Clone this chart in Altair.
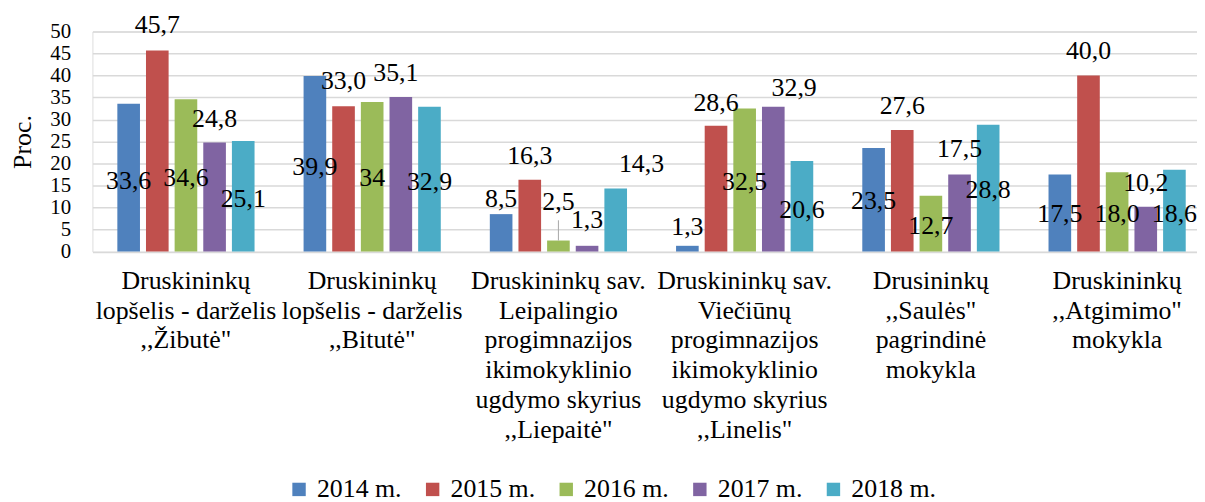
import altair as alt
import pandas as pd

categories = [
    "Druskininkų|lopšelis - darželis|,,Žibutė\"",
    "Druskininkų|lopšelis - darželis|,,Bitutė\"",
    "Druskininkų sav.|Leipalingio|progimnazijos|ikimokyklinio|ugdymo skyrius|,,Liepaitė\"",
    "Druskininkų sav.|Viečiūnų|progimnazijos|ikimokyklinio|ugdymo skyrius|,,Linelis\"",
    "Drusininkų|,,Saulės\"|pagrindinė|mokykla",
    "Druskininkų|,,Atgimimo\"|mokykla",
]
years = ["2014 m.", "2015 m.", "2016 m.", "2017 m.", "2018 m."]
colors = ["#4f81bd", "#c0504d", "#9bbb59", "#8064a2", "#4bacc6"]

values_2014 = [33.6, 39.9, 8.5, 1.3, 23.5, 17.5]
values_2015 = [45.7, 33.0, 16.3, 28.6, 27.6, 40.0]
values_2016 = [34.6, 34.0, 2.5, 32.5, 12.7, 18.0]
values_2017 = [24.8, 35.1, 1.3, 32.9, 17.5, 10.2]
values_2018 = [25.1, 32.9, 14.3, 20.6, 28.8, 18.6]

labels_2014 = ["33,6", "39,9", "8,5", "1,3", "23,5", "17,5"]
labels_2015 = ["45,7", "33,0", "16,3", "28,6", "27,6", "40,0"]
labels_2016 = ["34,6", "34", "2,5", "32,5", "12,7", "18,0"]
labels_2017 = ["24,8", "35,1", "1,3", "32,9", "17,5", "10,2"]
labels_2018 = ["25,1", "32,9", "14,3", "20,6", "28,8", "18,6"]

# label anchor (in data units)
label_y_2014 = [16.1, 19.3, 11.9, 5.5, 11.4, 8.5]
label_y_2015 = [51.4, 38.7, 21.8, 33.7, 33.1, 45.5]
label_y_2016 = [16.6, 16.6, 11.2, 15.7, 5.8, 8.5]
label_y_2017 = [30.1, 40.5, 7.1, 37.1, 23.4, 15.5]
label_y_2018 = [11.9, 15.9, 19.8, 9.4, 13.9, 8.5]

# horizontal nudges of a few labels (px)
label_dx_2017 = [0, -5, 0, 21, 0, 0]
label_dx_2018 = [0, 0, 26, 0, 0, 0]

# leader line for the "2,5" label
leader_cat = categories[2]
leader_year = "2016 m."
leader_from = 2.5
leader_to = 7.1

vals = [values_2014, values_2015, values_2016, values_2017, values_2018]
labs = [labels_2014, labels_2015, labels_2016, labels_2017, labels_2018]
lys = [label_y_2014, label_y_2015, label_y_2016, label_y_2017, label_y_2018]
dxs = [[0] * 6, [0] * 6, [0] * 6, label_dx_2017, label_dx_2018]

rows = []
for yi, yr in enumerate(years):
    for ci, cat in enumerate(categories):
        rows.append({
            "cat": cat, "year": yr, "value": vals[yi][ci],
            "label": labs[yi][ci], "label_y": lys[yi][ci], "dx": dxs[yi][ci],
        })
df = pd.DataFrame(rows)
leader_df = pd.DataFrame([{"cat": leader_cat, "year": leader_year,
                           "value": leader_from, "value2": leader_to}])

FONT = "Liberation Serif"
FS = 26

x_enc = alt.X(
    "cat:N", sort=categories,
    scale=alt.Scale(paddingInner=0.231, paddingOuter=0.081, align=0.726, round=False),
    axis=alt.Axis(
        title=None, labelExpr="split(datum.label, '|')",
        labelFontSize=FS, labelLineHeight=30, labelPadding=16, labelOverlap=False,
        labelLimit=0, labelAngle=0, labelBaseline="top",
        domain=False, ticks=False, grid=False,
    ),
)
xo_enc = alt.XOffset("year:N", sort=years,
                     scale=alt.Scale(paddingInner=0.21, paddingOuter=0.105))
y_axis = alt.Axis(
    title="Proc.", values=list(range(0, 51, 5)), labelFontSize=21, labelOverlap=False,
    labelPadding=22, ticks=False, domain=False,
    grid=True, gridColor="#d9d9d9", gridWidth=1.5,
    titleFontSize=FS, titleFontWeight="normal",
    titleAngle=270, titleX=-70, titleY=110.75, titleAlign="center", titleBaseline="middle",
)
y_scale = alt.Scale(domain=[0, 50], nice=False)

bars = alt.Chart(df).mark_bar().encode(
    x=x_enc, xOffset=xo_enc,
    y=alt.Y("value:Q", scale=y_scale, axis=y_axis),
    color=alt.Color("year:N", sort=years, scale=alt.Scale(domain=years, range=colors),
                    legend=alt.Legend(
                        title=None, orient="none", legendX=195, legendY=448,
                        direction="horizontal", columns=5, symbolType="square",
                        symbolSize=182, symbolStrokeWidth=0,
                        labelFontSize=FS, labelOffset=5,
                        columnPadding=17.5, padding=0)),
)

layers = [bars]
for d in sorted(df["dx"].unique()):
    layers.append(
        alt.Chart(df).transform_filter(alt.datum.dx == int(d)).mark_text(
            font=FONT, fontSize=FS, color="black", align="center",
            baseline="middle", dx=int(d),
        ).encode(
            x=x_enc, xOffset=xo_enc,
            y=alt.Y("label_y:Q", scale=y_scale, axis=y_axis),
            text="label:N",
        )
    )

leader = alt.Chart(leader_df).mark_rule(color="#a6a6a6", strokeWidth=1).encode(
    x=x_enc, xOffset=xo_enc,
    y=alt.Y("value:Q", scale=y_scale, axis=y_axis),
    y2="value2:Q",
)
layers.append(leader)

chart = alt.layer(*layers).properties(
    width=1112, height=221.5,
    padding={"left": 85, "top": 22, "right": 0, "bottom": 251},
    autosize=alt.AutoSizeParams(type="none"),
).configure_view(stroke=None).configure(
    background="white", font=FONT
).configure_axis(
    labelFont=FONT, titleFont=FONT, labelColor="black", titleColor="black"
).configure_legend(
    labelFont=FONT, labelColor="black"
).configure_text(font=FONT)

chart.save("out.html", embed_options={"renderer": "svg", "actions": False})
